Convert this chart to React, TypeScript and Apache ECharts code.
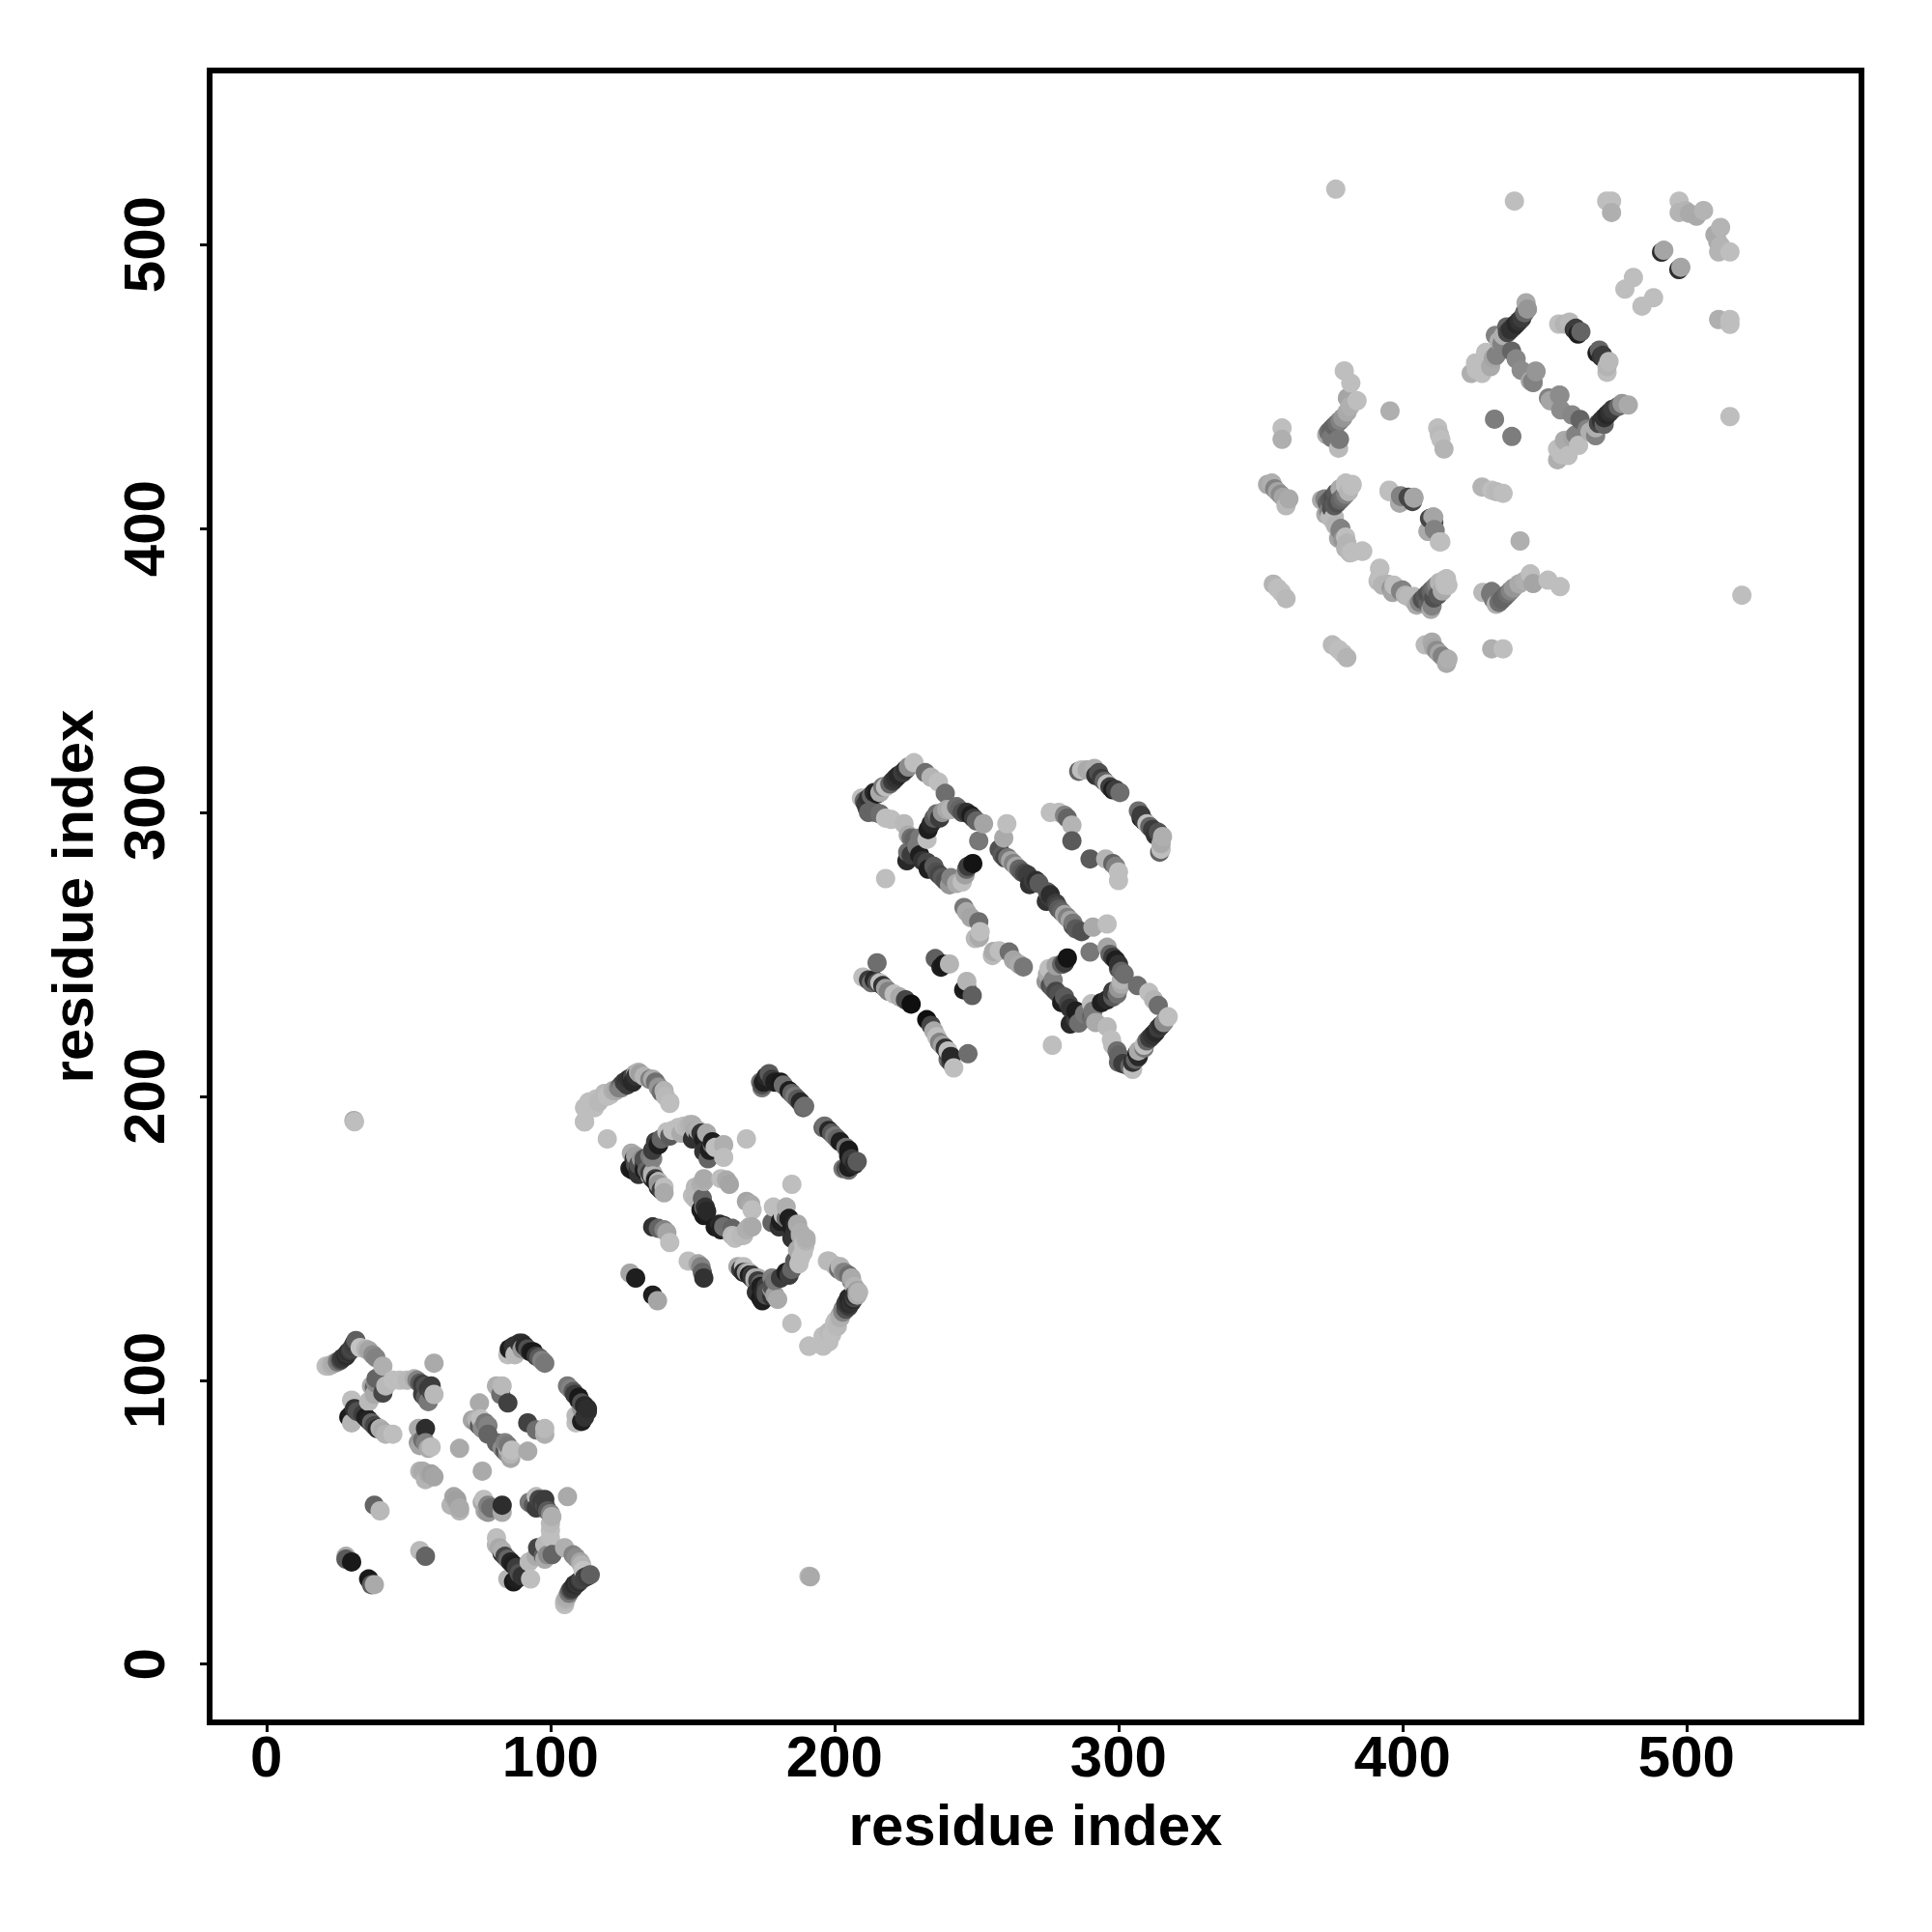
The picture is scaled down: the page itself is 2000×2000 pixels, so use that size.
import React, { useEffect, useRef } from "react";
import * as echarts from "echarts";

type C = [number, number, number];

const tickValues = [0, 100, 200, 300, 400, 500];
const axisTitle = "residue index";

const d1a: C[] = [[21,105,190],[22,105,185],[23,105.5,175],[24,106,170],[25,106.5,120],[26,107,85],[26.5,107.5,60],[27,108,55],[28,108.5,45],[28.5,109.5,55],[29,110,45],[29.5,110.5,60],[30,111,70],[30.5,112,65],[31,113,60],[31.5,114,95]];
const d1b: C[] = [[33,111.5,195],[35,111,180],[36,110.5,165],[37.5,109,140],[38.5,108,130],[41,105,175]];
const d1c: C[] = [[38,97.5,100],[37,98,170],[38.5,99,140],[42,98,185],[44.5,100,190],[47,100,190],[49.5,100,185],[52,100.5,175],[53,100,130],[54,99,90],[55,98.5,60],[56,98,80],[57,97,60],[58,96,70],[59,95,185],[57,92.5,120],[56,94,90],[55,95,60],[59,106,170],[58,98,60],[41,95.5,70],[38.6,100.6,100]];
const d1d: C[] = [[30,93,190],[36,92.5,185],[38,95,170],[31,90,50],[30,88,30],[29,87,25],[32,89,80],[34,88,60],[35,87,30],[30,85,180],[36,86,35],[37,85,100],[38,84,70],[39,83,40],[40,83,175],[41,82,170],[42,81,180],[44.5,81,190]];
const d1e: C[] = [[53.5,83,170],[53.5,78,150],[56,83,45],[55,79,110],[56,78,130],[57,76,170],[58,76.5,190],[54,77,165],[68,76,170]];
const d1g: C[] = [[54,68,180],[55,68,170],[56,65,180],[57,67,170],[58,67,160],[59,66,165]];
const d1h: C[] = [[75,92,170],[72.5,86,165],[74,85,140],[75,84,90],[74,86,180],[76,85,190],[77,85,120],[78,84,130],[78,81,100],[76,83,140],[75.4,86.4,190]];
const d1i: C[] = [[81,98,175],[83,98,185],[82.5,95,110],[85,92,65]];
const d1j: C[] = [[85,109,190],[87.5,109,185],[85.5,111,30],[87,112,50],[89,113,50],[90,113,45],[90,111,150],[91,112,40],[92,111,80],[93,110,30],[94,110,25],[95,108.5,60],[96,108,90],[97,107,130],[98,106,120]];
const d1k: C[] = [[38,56,100],[40,54,185],[28,38,170],[28,37,90],[30,36,25]];

const d2a: C[] = [[112,191,190],[112,196,190],[113.5,198,190],[116,199,190],[119,201,185],[121,200.5,190],[123,202,170],[124,203,130],[125,204,80],[126,205,60],[127,205,45],[127.5,206,50],[128.5,206.5,40],[129,207,70],[130,208,170],[131,208.5,180],[133,207,180],[135,206,130],[137,205,110],[138,203.5,130],[140,202,180],[142,198,185],[120,185,190]];
const d2b: C[] = [[128,174.6,30],[128.5,180,170],[129.5,178,50],[130,176,80],[131,175,40],[132,178,150],[133,176,60],[134,174,100],[135,172,150],[136,173,170],[137,171,60],[138,170,180],[140,168,190],[136,178,130],[136,181,60],[137,184,60],[138,183,30],[139,185,100],[141,187.5,190],[143,188,190],[145,189,190],[147,189.5,190],[149,190,180],[151,188,170],[150,185,50],[152,186,50],[153,187,50],[154,185,30],[155,186,40],[155.5,178,100],[156,181,30],[157,183,110],[158,182,190],[161,183,175],[161,178.5,190],[169,185,190]];
const d2c: C[] = [[150,165,190],[151,168,185],[154,170,175],[153.5,164,100],[153,160,30],[154.5,161,50],[160,171,190],[162,170.5,170],[163,169,165]];
const d2d: C[] = [[136,154,50],[138,153.5,100],[140,153,130],[141,152,165],[142,148.5,190]];
const d2e: C[] = [[159.5,155,40],[158,154,25],[161,154,110],[164,151,185],[165,150.5,190],[167,151,185],[169,153,175],[171,154,170]];
const d2f: C[] = [[166,140,170],[167,139,60],[168,138,40],[169,138,150],[170,137,30],[171,136,50],[172,136,180],[173,135,60],[174,133,30],[172.5,131,50],[174,129,25],[176,131,80],[178,133,80],[179,130,160],[179,135,120]];
const d2g: C[] = [[183,138,30],[186,142,90],[187,146,170],[189,148,185],[190,150,175],[188,152,175],[187,155,170],[184,157,30],[180.5,154,50]];
const d2h: C[] = [[197.5,142,190],[200,140.5,185],[201.5,139,110],[203,138,150],[206,136,170],[208,131.5,160],[207,130,50],[205,129,40],[204,127,60],[203,125,130],[202,122,175],[200,120,190],[198,117,185],[196,115.5,190],[191,112,190],[128,137.7,165],[130,136,30]];
const d2i: C[] = [[174,205,110],[174.5,203,120],[174.6,204,80],[175,205,30],[176,207,40],[177,208,90],[178,206,60],[179,205,30],[181,205,25],[182,204,110],[184,202,30],[185,201,100],[186,200,120],[187,199,90],[188,198,40],[189,196,100],[189.5,196.5,110]];

const d3a: C[] = [[209.5,305,190],[210.5,304,100],[211,303,60],[212,305,50],[213,306,100],[214,307,40],[215,306.5,30],[216,307,170],[217,309,120],[218,309,190],[219.5,310,100],[220.5,311,60],[221.5,312,50],[222.5,313,40],[224,314,60],[225,315,50],[226,316,140],[228,317.5,190],[234,312.4,180],[232,314,110],[236.6,310.7,190],[239,306.7,110]];
const d3a2: C[] = [[211.5,301.5,60],[212,300,100],[214.5,300,100],[216,299.5,110],[218,298,190],[220,297.5,190],[224.5,296,185],[226,292,170],[227,291,110],[228,290.5,100],[230,291,120],[232.6,290.5,190]];
const d3b: C[] = [[233,294,30],[234,296,40],[235,298,90],[236,299.5,110],[237,298,60],[238,300,150],[239.5,301,170],[241,301,180],[243,302,110],[244,301,100],[245,300,80],[246.5,300,50],[248,299,30],[249,298,60],[250,297,100],[250.8,290,120],[252.5,296,165]];
const d3c: C[] = [[225.8,286,110],[225.5,283,40],[227,285,60],[229,288,120],[230,285,30],[231,283,50],[232.6,282.4,70],[233,280,30],[235,281,90],[236,279,80],[237,278,70],[238,277,90],[239,276,80],[240.5,274.5,150],[241,277,130],[243,275,170],[245,275.5,190],[246,278,160],[246.5,280,100],[247,281,60],[248.7,282,20],[218,276.7,190]];
const d3e: C[] = [[260.7,296,190],[259.6,291,170],[258,287,80],[259,285,90],[260,284,70],[261,284,120],[262,283,165],[263,282,130],[264,281,165],[265,280,100],[266,279,90],[267,278.5,70],[268,278,60],[270,276,60],[271,276,45],[272,275,90],[268.7,274.6,50]];
const d3f: C[] = [[276,300,190],[279,300,190],[281,299,130],[282,298,100],[283.6,295.5,180],[283.6,290,90]];
const d3g: C[] = [[286,314.5,100],[287,315,190],[289,315,170],[291.5,315.5,175],[292,313,50],[293,314,80],[294,312,60],[295,311,100],[296,310,190],[297,309,60],[298,308,30],[299,308,60],[300.5,307,110]];
const d3h: C[] = [[245.6,266.5,120],[246.5,265,170],[248,263,165],[250.8,261.5,110],[251.3,258,190],[249.6,255.6,185],[251,256,170]];
const d3j: C[] = [[215,247,110],[210,242,190],[212,241,60],[213,240,110],[214,241,40],[215,240,80],[216,240,190],[217,239,50],[218,238,160],[219,237,130],[221,236,190],[223,235,170],[225,234,70],[227,232.5,15]];
const d3k: C[] = [[235.5,248.5,95],[237.5,245.5,30],[238.5,246.5,25],[240.5,246.6,180]];

const d4a: C[] = [[357.6,435.4,190],[357.6,431.4,175],[395.6,441.4,175],[432.4,438.5,125],[376.5,519.5,190]];
const d4b: C[] = [[379.5,455.5,190],[381.8,451.2,190],[384,445,190],[380.6,446,165],[381.5,443,175],[380.5,441,170],[379,439,150],[378,438,130],[377,437,110],[376,436,100],[375,435,100],[374,434,110],[373.3,433,175],[375,432,120],[377,431,120],[377.8,431.4,120],[377.5,428.3,185]];
const d4d: C[] = [[412.4,435.4,190],[413.5,431.4,190],[414.6,428,180],[413,433,185]];
const d4f: C[] = [[352.5,415.5,170],[354,416,175],[355,414,130],[356,413,165],[357,412,140],[358,411,165],[360,410.4,170],[359,408,185]];
const d4g: C[] = [[371.5,410,170],[372.7,410.4,130],[373.5,409,100],[374.5,410,90],[375.5,411,80],[376.6,412.5,90],[378,414,170],[380,416,190],[382.3,415.5,190]];
const d4h: C[] = [[374.4,404,185],[376,404,185],[376.5,401,180],[378.3,400,130],[377.5,396.5,165],[380,397,190],[380,393,180],[382.3,391.7,190],[385.7,392,190]];
const d4i: C[] = [[395.3,413,190],[399.3,411.5,130],[399,409,185],[402,411,70],[404,411,165]];
const d4j: C[] = [[409.5,403.5,70],[410.7,404,165],[409,399,170],[411.2,399.6,130],[413.5,395.3,190]];
const d4m: C[] = [[392,386,190],[391.4,381.5,185],[394.8,380.4,180],[396,379,150],[399.3,378,130],[402,376,185],[403.9,375.8,190],[405,373,170],[406,374,130],[407,375,80],[408,376,90],[409,377,80],[410,378,100],[411,379,110],[412,380,130],[413,381,180],[415,382,190],[415,380,190]];
const d4o: C[] = [[354.5,380.4,180],[356,379,190],[357.4,377.5,190],[359,375.3,185]];

const d5a: C[] = [[439.4,515.3,190],[471.9,515.3,190],[473.6,515.3,190],[473.6,511.3,175]];
const d5c: C[] = [[497.4,515.3,190],[497.4,511.3,180],[499.6,512,180],[501,511,170],[503.5,510,170],[506,512,180]];
const d5d: C[] = [[491.2,497.3,45],[492,498,165],[481.3,488.4,190],[478.3,484.3,190]];
const d5f: C[] = [[424.2,454.6,175],[426,456,190],[428,454.6,190],[425.7,458.3,190],[429.3,462,190],[431,457,170],[432,460,165],[433,461,130],[432.7,468,130],[434,466,175],[435,465,130],[435.5,468,175],[436.7,471,100],[437,469,70],[438,470,50],[439,471,50],[440,472,40],[441,473,50],[442,474,60],[443,476,100],[444,477.3,150],[443.5,479.5,170]];
const d5g: C[] = [[438.4,462.5,100],[440,459.7,135],[441.8,455.7,140],[447,455.2,150],[445.8,451.8,130],[451.4,446,130],[455.4,446.9,140],[452,445,165]];
const d5i: C[] = [[455,472,190],[457,472,180],[458.8,472.7,185],[460.5,470,50],[461,470.5,60],[461.8,468.5,30],[462.8,469.3,100]];
const d0: C[] = [[30.8,191.5,170],[31,191,190]];

const contacts: C[] = [
  d0, d1a, d1b, d1c, d1d, d1e, d1g, d1h, d1i, d1j, d1k,
  d2a, d2b, d2c, d2d, d2e, d2f, d2g, d2h, d2i,
  d3a, d3a2, d3b, d3c, d3e, d3f, d3g, d3h, d3j, d3k,
  d4a, d4b, d4d, d4f, d4g, d4h, d4i, d4j, d4m, d4o,
  d5a, d5c, d5d, d5f, d5g, d5i,
].flat();

const FONT = "'Liberation Sans', Arial, sans-serif";

export default function App() {
  const ref = useRef<HTMLDivElement>(null);
  useEffect(() => {
    const chart = echarts.init(ref.current!, null, { renderer: "svg" });
    const points = contacts
      .flatMap(([a, b, g]) => [
        { value: [a, b], itemStyle: { color: `rgb(${g},${g},${g})` } },
        { value: [b, a], itemStyle: { color: `rgb(${g},${g},${g})` } },
      ])
      .sort((p, q) => p.value[0] - q.value[0]);
    const axisBase = {
      type: "value" as const,
      splitLine: { show: false },
      axisLine: { show: false, onZero: false },
      axisTick: { show: true, length: 10, inside: false, customValues: tickValues, lineStyle: { color: "#000", width: 3 } },
      name: axisTitle,
      nameLocation: "middle" as const,
      nameTextStyle: { fontFamily: FONT, fontWeight: "bold" as const, fontSize: 60, color: "#000" },
    };
    const labelBase = {
      show: true,
      customValues: tickValues,
      fontFamily: FONT,
      fontWeight: "bold" as const,
      fontSize: 60,
      color: "#000",
    };
    chart.setOption({
      animation: false,
      backgroundColor: "#fff",
      grid: { show: true, left: 217, top: 73, width: 1710, height: 1710, borderColor: "#000", borderWidth: 6, backgroundColor: "transparent" },
      xAxis: { ...axisBase, min: -20, max: 561.6, nameGap: 76, axisLabel: { ...labelBase, margin: 5 } },
      yAxis: {
        ...axisBase,
        min: -20.5,
        max: 561.3,
        nameGap: 112,
        axisLabel: { ...labelBase, rotate: 90, margin: 38, align: "center", verticalAlign: "bottom" },
      },
      series: [{ type: "scatter", symbol: "circle", symbolSize: 20, data: points, clip: false, itemStyle: { opacity: 1 } }],
    });
    return () => chart.dispose();
  }, []);
  return <div ref={ref} style={{ position: "absolute", left: 0, top: 0, width: 2000, height: 2000 }} />;
}
